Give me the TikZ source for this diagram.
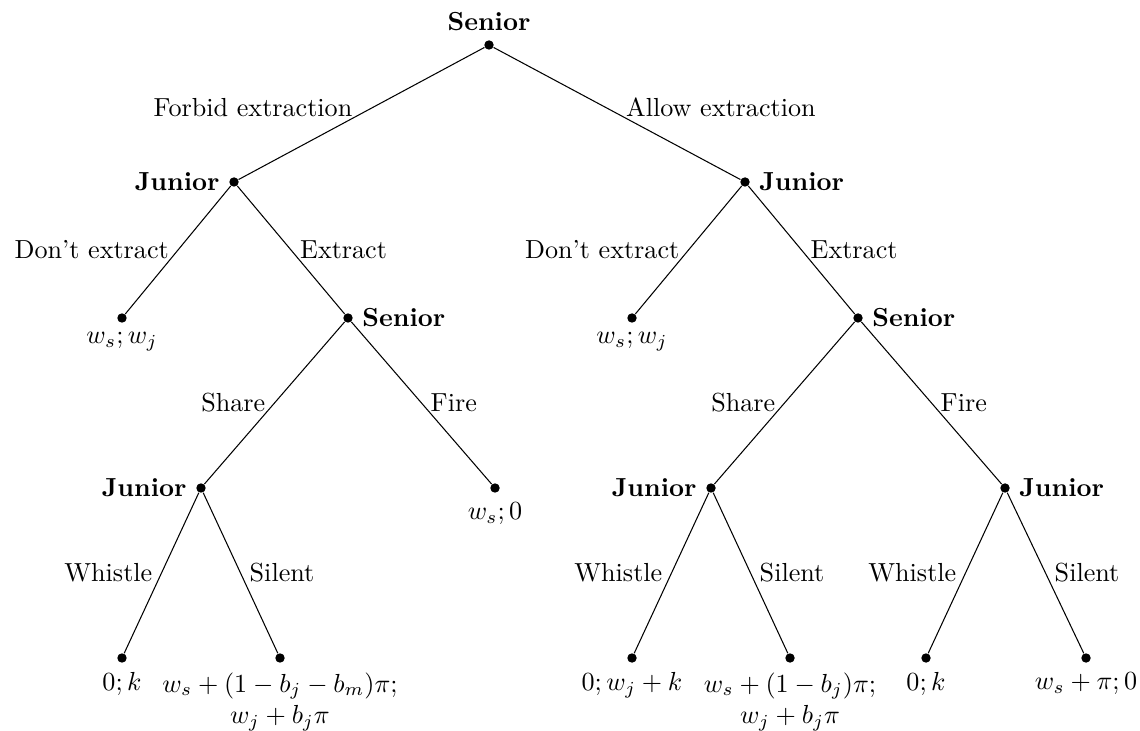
\documentclass[tikz,border=0pt]{standalone}
\begin{document}
\begin{tikzpicture}[x=0.383pt, y=-0.383pt,
  dot/.style={circle, fill, inner sep=0pt, minimum size=3.6pt},
  who/.style={font=\bfseries},
  pay/.style={align=center},
  branch/.style={line width=0.4pt}]
\useasboundingbox (0,0) rectangle (1140,731);

% decision nodes
\node[dot, label={[who]above:Senior}] (s0) at (489,45) {};
\node[dot, label={[who]left:Junior}]  (j1) at (234,182) {};
\node[dot, label={[who]right:Junior}] (j2) at (745,182) {};
\node[dot, label={[who]right:Senior}] (s1) at (348,318) {};
\node[dot, label={[who]right:Senior}] (s2) at (858,318) {};
\node[dot, label={[who]left:Junior}]  (j3) at (201,488) {};
\node[dot, label={[who]left:Junior}]  (j4) at (711,488) {};
\node[dot, label={[who]right:Junior}] (j5) at (1005,488) {};

% terminal nodes with payoffs
\node[dot, label={below:$w_s; w_j$}] (a1) at (122,318) {};
\node[dot, label={below:$w_s; w_j$}] (a2) at (632,318) {};
\node[dot, label={below:$w_s; 0$}]   (b1) at (495,488) {};
\node[dot, label={below:$0; k$}]     (c1) at (122,658) {};
\node[dot, label={[pay]below:$w_s + (1 - b_j - b_m)\pi;$\\$w_j + b_j\pi$}] (c2) at (280,658) {};
\node[dot, label={below:$0; w_j + k$}] (c3) at (632,658) {};
\node[dot, label={[pay]below:$w_s + (1 - b_j)\pi;$\\$w_j + b_j\pi$}] (c4) at (790,658) {};
\node[dot, label={below:$0; k$}]     (c5) at (926,658) {};
\node[dot, label={below:$w_s + \pi; 0$}] (c6) at (1086,658) {};

% branches
\draw[branch] (s0) -- node[left, yshift=2.3pt] {Forbid extraction} (j1);
\draw[branch] (s0) -- node[right, yshift=2.3pt] {Allow extraction} (j2);
\draw[branch] (j1) -- node[left] {Don't extract} (a1);
\draw[branch] (j1) -- node[right] {Extract} (s1);
\draw[branch] (j2) -- node[left] {Don't extract} (a2);
\draw[branch] (j2) -- node[right] {Extract} (s2);
\draw[branch] (s1) -- node[left] {Share} (j3);
\draw[branch] (s1) -- node[right] {Fire} (b1);
\draw[branch] (s2) -- node[left] {Share} (j4);
\draw[branch] (s2) -- node[right] {Fire} (j5);
\draw[branch] (j3) -- node[left] {Whistle} (c1);
\draw[branch] (j3) -- node[right] {Silent} (c2);
\draw[branch] (j4) -- node[left] {Whistle} (c3);
\draw[branch] (j4) -- node[right] {Silent} (c4);
\draw[branch] (j5) -- node[left] {Whistle} (c5);
\draw[branch] (j5) -- node[right] {Silent} (c6);
\end{tikzpicture}
\end{document}
